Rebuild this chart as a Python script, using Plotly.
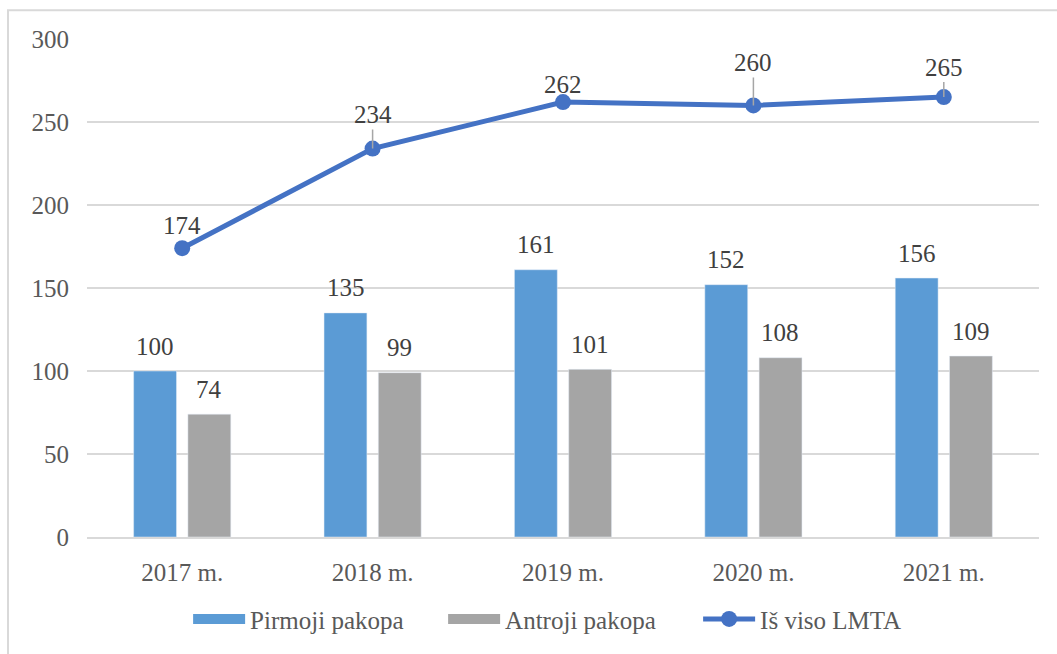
import plotly.graph_objects as go

# ---- data ----
categories = ["2017 m.", "2018 m.", "2019 m.", "2020 m.", "2021 m."]
pirmoji = [100, 135, 161, 152, 156]
antroji = [74, 99, 101, 108, 109]
is_viso = [174, 234, 262, 260, 265]
y_ticks = [0, 50, 100, 150, 200, 250, 300]

# ---- style ----
FONT = "Liberation Serif, Times New Roman, serif"
BLUE = "#5B9BD5"
GRAY = "#A5A5A5"
LINE = "#4472C4"
TICK_COLOR = "#595959"
LABEL_COLOR = "#404040"
GRID = "#D9D9D9"
FS = 25

# label offsets for the line series (pixels above point), and whether a leader line is shown
line_label_offsets = [23, 34, 18, 43, 30]
line_label_leader = [False, True, False, True, True]

fig = go.Figure()

fig.add_trace(go.Bar(x=categories, y=pirmoji, name="Pirmoji pakopa",
                     marker_color=BLUE, showlegend=False))
fig.add_trace(go.Bar(x=categories, y=antroji, name="Antroji pakopa",
                     marker_color=GRAY, showlegend=False))
fig.add_trace(go.Scatter(x=categories, y=is_viso, name="Iš viso LMTA", mode="lines+markers",
                         line=dict(color=LINE, width=5), marker=dict(size=16, color=LINE),
                         showlegend=False))

# legend entries (wide swatches like the original)
fig.add_trace(go.Scatter(x=[None], y=[None], mode="lines", name="Pirmoji pakopa",
                         line=dict(color=BLUE, width=13)))
fig.add_trace(go.Scatter(x=[None], y=[None], mode="lines", name="Antroji pakopa",
                         line=dict(color=GRAY, width=13)))
fig.add_trace(go.Scatter(x=[None], y=[None], mode="lines+markers", name="Iš viso LMTA",
                         line=dict(color=LINE, width=5), marker=dict(size=16, color=LINE)))

annotations = []
for c, v in zip(categories, pirmoji):
    annotations.append(dict(x=c, y=v, xref="x", yref="y", text=str(v), showarrow=False,
                            xshift=-27, yshift=25, yanchor="middle",
                            font=dict(family=FONT, size=FS, color=LABEL_COLOR)))
for c, v in zip(categories, antroji):
    annotations.append(dict(x=c, y=v, xref="x", yref="y", text=str(v), showarrow=False,
                            xshift=27, yshift=25, yanchor="middle",
                            font=dict(family=FONT, size=FS, color=LABEL_COLOR)))
for c, v, off, lead in zip(categories, is_viso, line_label_offsets, line_label_leader):
    if lead:
        annotations.append(dict(x=c, y=v, xref="x", yref="y", text=str(v), showarrow=True,
                                ax=0, ay=-off, arrowhead=0, arrowwidth=1.5,
                                arrowcolor="#A6A6A6", standoff=0, startstandoff=0,
                                font=dict(family=FONT, size=FS, color=LABEL_COLOR)))
    else:
        annotations.append(dict(x=c, y=v, xref="x", yref="y", text=str(v), showarrow=False,
                                yshift=off, yanchor="middle",
                                font=dict(family=FONT, size=FS, color=LABEL_COLOR)))

fig.update_layout(
    width=1057, height=654,
    margin=dict(l=87, r=18, t=39, b=114),
    paper_bgcolor="white", plot_bgcolor="white",
    barmode="group", bargap=0.43, bargroupgap=0.21,
    font=dict(family=FONT, size=FS, color=TICK_COLOR),
    xaxis=dict(showgrid=False, showline=True, linecolor=GRID, linewidth=1.5,
               ticks="outside", ticklen=12, tickcolor="rgba(0,0,0,0)",
               tickfont=dict(family=FONT, size=FS, color=TICK_COLOR)),
    yaxis=dict(range=[0, 300], tickvals=y_ticks, showgrid=True, gridcolor=GRID,
               gridwidth=1.5, zeroline=False, showline=False,
               ticks="outside", ticklen=12, tickcolor="rgba(0,0,0,0)",
               tickfont=dict(family=FONT, size=FS, color=TICK_COLOR)),
    legend=dict(orientation="h", x=0.508, xanchor="center", y=-0.165, yanchor="middle",
                itemwidth=52, entrywidth=188, entrywidthmode="pixels",
                font=dict(family=FONT, size=FS, color=TICK_COLOR),
                bgcolor="rgba(0,0,0,0)"),
    annotations=annotations,
    shapes=[dict(type="rect", xref="paper", yref="paper",
                 x0=-0.083, x1=1.03, y0=-0.25, y1=1.0579,
                 line=dict(color=GRID, width=2), fillcolor="rgba(0,0,0,0)", layer="below")],
)

fig.write_html("out.html", config={"displayModeBar": False},
               post_script="document.body.style.margin='0';document.body.style.padding='0';")
